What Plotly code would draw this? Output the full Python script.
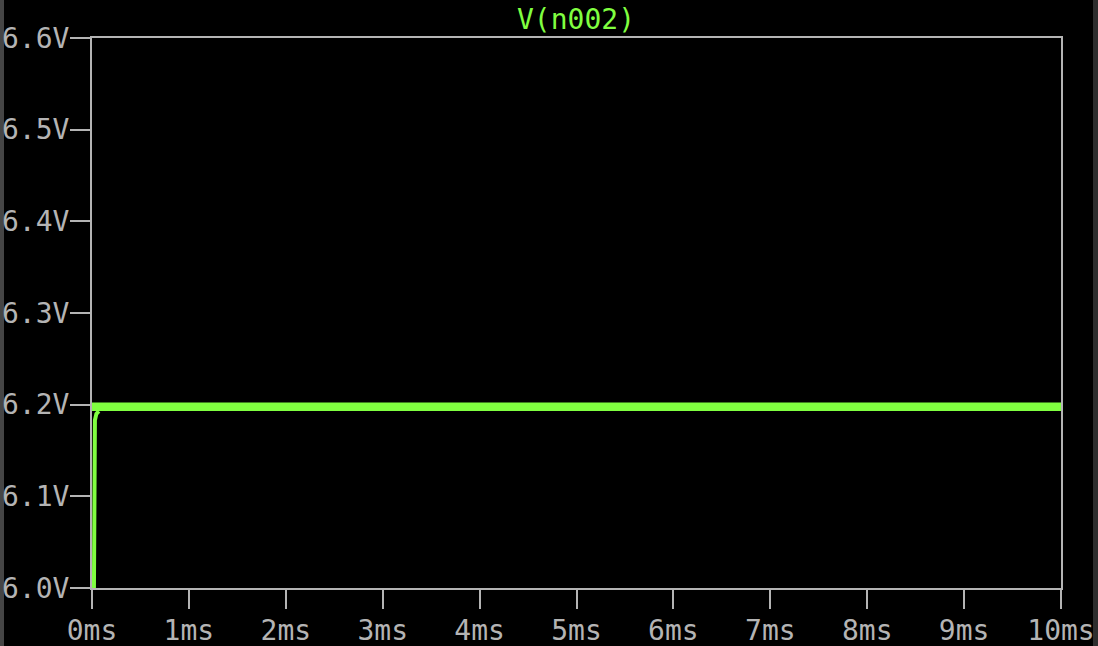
import plotly.graph_objects as go

# ---- data ----
x_tick_vals = [0, 1, 2, 3, 4, 5, 6, 7, 8, 9, 10]
x_tick_text = ["0ms", "1ms", "2ms", "3ms", "4ms", "5ms", "6ms", "7ms", "8ms", "9ms", "10ms"]
y_tick_vals = [6.0, 6.1, 6.2, 6.3, 6.4, 6.5, 6.6]
y_tick_text = ["6.0V", "6.1V", "6.2V", "6.3V", "6.4V", "6.5V", "6.6V"]

# start-up rise of V(n002) (time in ms, volts)
t_rise = [0.02, 0.02, 0.03, 0.045, 0.07]
v_rise = [6.0, 6.165, 6.183, 6.19, 6.193]

# ripple envelope of the settled output
t_env = [0.0, 10.0]
v_upper = [6.2024, 6.2024]
v_lower = [6.1932, 6.1932]

GREEN = "#80FF40"
GRAY = "#B4B4B4"
FONT = "DejaVu Sans Mono"
FS = 28

L, R, T, B = 92, 37, 38, 58
W, H = 1098, 646
PW = W - L - R
PH = H - T - B

fig = go.Figure()
fig.add_trace(go.Scatter(x=t_env, y=v_lower, mode="lines", line=dict(width=0, color=GREEN),
                         showlegend=False, hoverinfo="skip"))
fig.add_trace(go.Scatter(x=t_env, y=v_upper, mode="lines", line=dict(width=0, color=GREEN),
                         fill="tonexty", fillcolor=GREEN, showlegend=False, name="V(n002)"))
fig.add_trace(go.Scatter(x=t_rise, y=v_rise, mode="lines", line=dict(width=4, color=GREEN),
                         showlegend=False, name="V(n002)"))

# window frame strips at the left and right edges
fig.add_shape(type="rect", xref="paper", yref="paper",
              x0=-L / PW, x1=-(L - 4) / PW, y0=-B / PH, y1=1 + T / PH,
              fillcolor="#454545", line=dict(width=0), layer="below")
fig.add_shape(type="rect", xref="paper", yref="paper",
              x0=1 + (R - 5) / PW, x1=1 + R / PW, y0=-B / PH, y1=1 + T / PH,
              fillcolor="#2e2e2e", line=dict(width=0), layer="below")

fig.update_layout(
    width=W, height=H,
    paper_bgcolor="black", plot_bgcolor="black",
    margin=dict(l=L, r=R, t=T, b=B, autoexpand=False),
    title=dict(text="V(n002)", x=576 / W, xref="container", xanchor="center",
               y=1, yref="container", yanchor="top",
               pad=dict(t=9), font=dict(family=FONT, size=FS, color=GREEN)),
    font=dict(family=FONT, size=FS, color=GRAY),
)
fig.update_xaxes(range=[0, 10], tickvals=x_tick_vals, ticktext=x_tick_text, automargin=False,
                 showgrid=False, zeroline=False, showline=True, linecolor=GRAY, linewidth=2,
                 mirror=True, ticks="outside", ticklen=19, tickwidth=2, tickcolor=GRAY,
                 ticklabelstandoff=-3,
                 tickfont=dict(family=FONT, size=FS, color=GRAY))
fig.update_yaxes(range=[6.0, 6.6], tickvals=y_tick_vals, ticktext=y_tick_text, automargin=False,
                 showgrid=False, zeroline=False, showline=True, linecolor=GRAY, linewidth=2,
                 mirror=True, ticks="outside", ticklen=20, tickwidth=2, tickcolor=GRAY,
                 ticklabelstandoff=-5,
                 tickfont=dict(family=FONT, size=FS, color=GRAY))

fig.write_html(
    "out.html",
    config={"displayModeBar": False},
    post_script="document.body.style.margin='0';document.body.style.background='black';",
)
